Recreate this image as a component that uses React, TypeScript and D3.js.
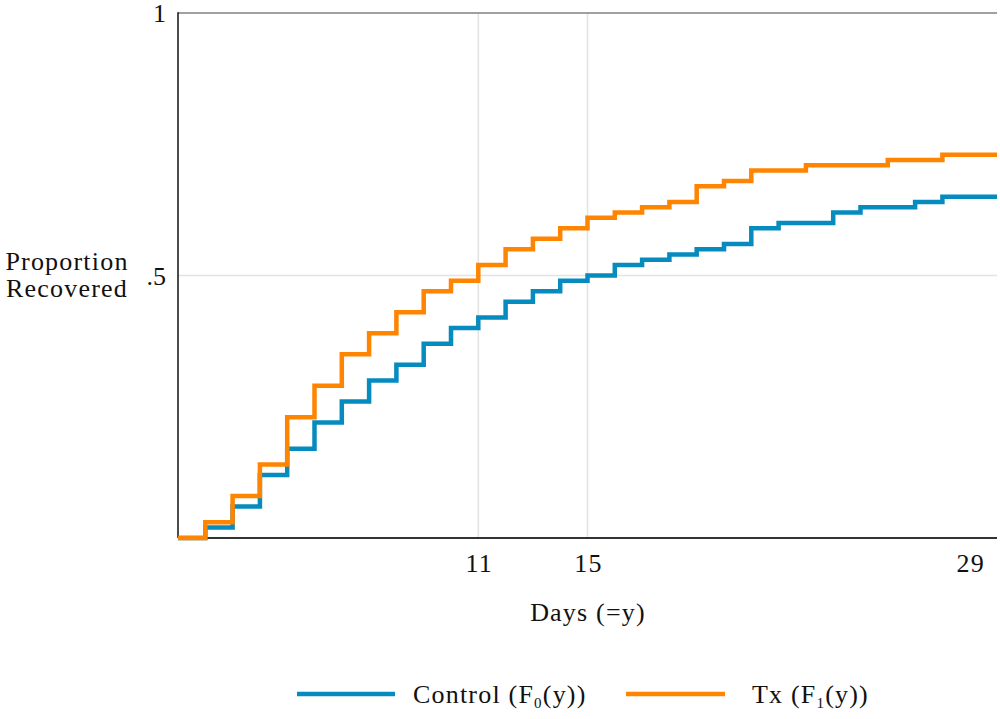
import React from "react";
import * as d3 from "d3";

const days = [0, 1, 2, 3, 4, 5, 6, 7, 8, 9, 10, 11, 12, 13, 14, 15, 16, 17, 18, 19, 20, 21, 22, 23, 24, 25, 26, 27, 28, 29, 30];
const control = [0, 0.02, 0.06, 0.12, 0.17, 0.22, 0.26, 0.30, 0.33, 0.37, 0.40, 0.42, 0.45, 0.47, 0.49, 0.50, 0.52, 0.53, 0.54, 0.55, 0.56, 0.59, 0.60, 0.60, 0.62, 0.63, 0.63, 0.64, 0.65, 0.65, 0.65];
const treated = [0, 0.03, 0.08, 0.14, 0.23, 0.29, 0.35, 0.39, 0.43, 0.47, 0.49, 0.52, 0.55, 0.57, 0.59, 0.61, 0.62, 0.63, 0.64, 0.67, 0.68, 0.70, 0.70, 0.71, 0.71, 0.71, 0.72, 0.72, 0.73, 0.73, 0.73];
const xTicks = [11, 15, 29];
const xGrid = [11, 15];
const yTicks = [1, 0.5];
const yTickLabels = ["1", ".5"];
const yGrid = [0.5];

const FONT = "'Liberation Serif', 'Times New Roman', serif";
const BLUE = "#068bbf";
const ORANGE = "#ff8400";
const FS = 26;
const LS = 1.2;

export default function App() {
  const x = d3.scaleLinear().domain([0, 30]).range([178, 997]);
  const y = d3.scaleLinear().domain([0, 1]).range([538, 13]);
  const line = d3
    .line<number>()
    .x((_, i) => x(days[i]))
    .y((d) => y(d))
    .curve(d3.curveStepAfter);

  return (
    <svg
      width={1000}
      height={719}
      style={{ position: "absolute", left: 0, top: 0, background: "#fff" }}
      fontFamily={FONT}
    >
      <rect x={0} y={0} width={1000} height={719} fill="#fff" />
      {/* grid */}
      {xGrid.map((d) => (
        <line key={"gx" + d} x1={x(d)} x2={x(d)} y1={y(1)} y2={y(0)} stroke="#e3e3e3" strokeWidth={1.6} />
      ))}
      {yGrid.map((d) => (
        <line key={"gy" + d} x1={x(0)} x2={x(30)} y1={y(d)} y2={y(d)} stroke="#e3e3e3" strokeWidth={1.6} />
      ))}
      {/* top border */}
      <line x1={x(0)} x2={x(30)} y1={y(1)} y2={y(1)} stroke="#808080" strokeWidth={1.5} />
      {/* axes */}
      <line x1={x(0)} x2={x(0)} y1={y(1) - 0.75} y2={y(0)} stroke="#111" strokeWidth={1.5} />
      <line x1={x(0)} x2={x(30)} y1={y(0)} y2={y(0)} stroke="#333" strokeWidth={2} />
      {/* series */}
      <path d={line(control) || ""} fill="none" stroke={BLUE} strokeWidth={4.5} />
      <path d={line(treated) || ""} fill="none" stroke={ORANGE} strokeWidth={4.5} />
      {/* y tick labels */}
      {yTicks.map((d, i) => (
        <text key={"yt" + d} x={166} y={y(d)} dy="0.35em" textAnchor="end" fontSize={FS} fill="#111">
          {yTickLabels[i]}
        </text>
      ))}
      {/* x tick labels */}
      {xTicks.map((d) => (
        <text key={"xt" + d} x={x(d) + 1} y={572} textAnchor="middle" fontSize={FS} fill="#111" letterSpacing={LS}>
          {d}
        </text>
      ))}
      {/* axis titles */}
      <text x={588} y={621} textAnchor="middle" fontSize={FS} fill="#111" letterSpacing={LS}>
        Days (=y)
      </text>
      <text x={67} y={270} textAnchor="middle" fontSize={FS} fill="#111" letterSpacing={LS}>
        Proportion
      </text>
      <text x={67} y={297} textAnchor="middle" fontSize={FS} fill="#111" letterSpacing={LS}>
        Recovered
      </text>
      {/* legend */}
      <line x1={297} x2={395} y1={694} y2={694} stroke={BLUE} strokeWidth={4.5} />
      <text x={413} y={703} fontSize={FS} fill="#111" letterSpacing={LS}>
        Control (F<tspan fontSize={15} dy={5}>0</tspan>
        <tspan dy={-5}>(y))</tspan>
      </text>
      <line x1={626} x2={725} y1={694} y2={694} stroke={ORANGE} strokeWidth={4.5} />
      <text x={752} y={703} fontSize={FS} fill="#111" letterSpacing={LS}>
        Tx (F<tspan fontSize={15} dy={5}>1</tspan>
        <tspan dy={-5}>(y))</tspan>
      </text>
    </svg>
  );
}
